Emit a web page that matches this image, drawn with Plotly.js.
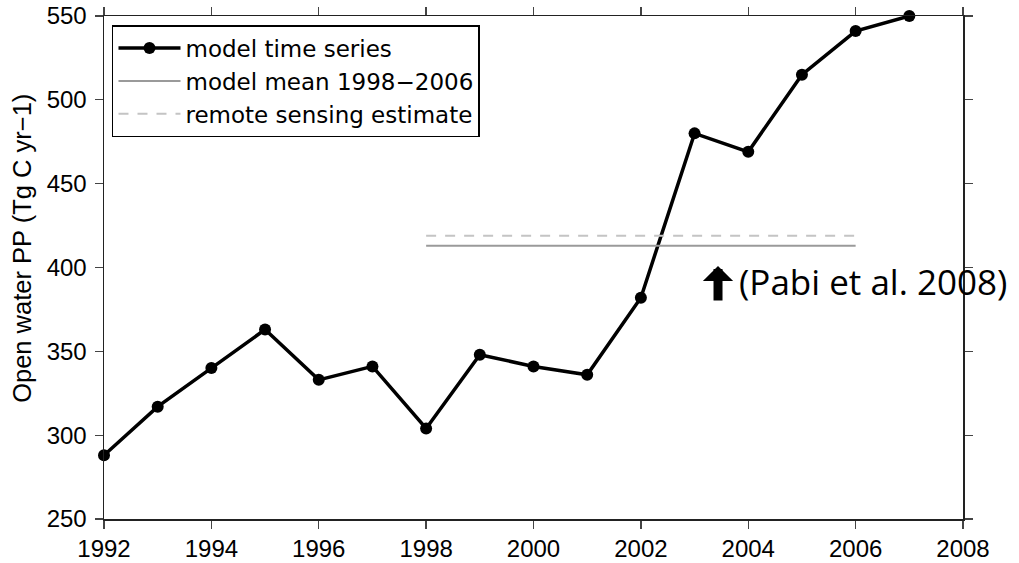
<!DOCTYPE html>
<html>
<head>
<meta charset="utf-8">
<script src="https://cdn.plot.ly/plotly-3.0.1.min.js"></script>
<style>html,body{margin:0;padding:0;background:#fff;}#chart{width:1019px;height:563px;}</style>
</head>
<body>
<div id="chart"></div>
<script>
// ---- data ----
const years = [1992,1993,1994,1995,1996,1997,1998,1999,2000,2001,2002,2003,2004,2005,2006,2007];
const modelPP = [288,317,340,363,333,341,304,348,341,336,382,480,469,515,541,550];
const meanYears = [1998,2006];
const modelMean = [413,413];
const remoteYears = [1998,2006];
const remoteEstimate = [419,419];
const xTicks = [1992,1994,1996,1998,2000,2002,2004,2006,2008];
const yTicks = [250,300,350,400,450,500,550];
const seriesNames = ['model time series','model mean 1998\u22122006','remote sensing estimate'];
const yTitle = 'Open water PP (Tg C yr\u22121)';
const noteText = '(Pabi et al. 2008)';

const FONT = 'Liberation Sans, Arial, Helvetica, sans-serif';
const LEGFONT = 'DejaVu Sans, Liberation Sans, sans-serif';

const traces = [
  {x: years, y: modelPP, name: seriesNames[0], type: 'scatter', mode: 'lines+markers',
   line: {color: '#000', width: 3.5}, marker: {color: '#000', size: 12}, cliponaxis: false},
  {x: meanYears, y: modelMean, name: seriesNames[1], type: 'scatter', mode: 'lines',
   line: {color: '#9a9a9a', width: 2}},
  {x: remoteYears, y: remoteEstimate, name: seriesNames[2], type: 'scatter', mode: 'lines',
   line: {color: '#c4c4c4', width: 2, dash: '10px,9px'}}
];

const axisCommon = {
  showgrid: false, zeroline: false, showline: true, linecolor: '#222', linewidth: 1.5,
  ticks: 'outside', ticklen: 8, tickwidth: 1.3, tickcolor: '#444', mirror: 'ticks',
  tickfont: {family: FONT, size: 24, color: '#000'}
};

const layout = {
  width: 1019, height: 563,
  margin: {l: 104, r: 56, t: 16, b: 44},
  paper_bgcolor: '#fff', plot_bgcolor: '#fff',
  showlegend: true,
  legend: {x: 0.0093, y: 0.982, xanchor: 'left', yanchor: 'top', bgcolor: '#fff',
    bordercolor: '#000', borderwidth: 1.5, font: {family: LEGFONT, size: 23, color: '#000'},
    traceorder: 'normal', itemwidth: 62},
  xaxis: Object.assign({}, axisCommon, {range: [1992, 2008], tickvals: xTicks, ticktext: xTicks.map(String)}),
  yaxis: Object.assign({}, axisCommon, {range: [250, 550], tickvals: yTicks, ticktext: yTicks.map(String),
    ticklabelstandoff: 3}),
  annotations: [
    {xref: 'paper', yref: 'paper', x: -0.0955, y: 0.539, xanchor: 'center', yanchor: 'middle',
     text: yTitle, textangle: -90, showarrow: false, font: {family: FONT, size: 25.5, color: '#000'}},
    {xref: 'paper', yref: 'paper', x: 0.7148, y: 0.503, text: '', showarrow: true,
     ax: 0, ay: 36, arrowhead: 1, arrowwidth: 9, arrowsize: 0.56, arrowcolor: '#000'},
    {xref: 'paper', yref: 'paper', x: 0.7369, y: 0.473, xanchor: 'left', yanchor: 'middle',
     text: noteText, showarrow: false, font: {family: 'Open Sans, sans-serif', size: 35, color: '#000'}}
  ]
};

Plotly.newPlot('chart', traces, layout, {displayModeBar: false, staticPlot: true});
</script>
</body>
</html>
